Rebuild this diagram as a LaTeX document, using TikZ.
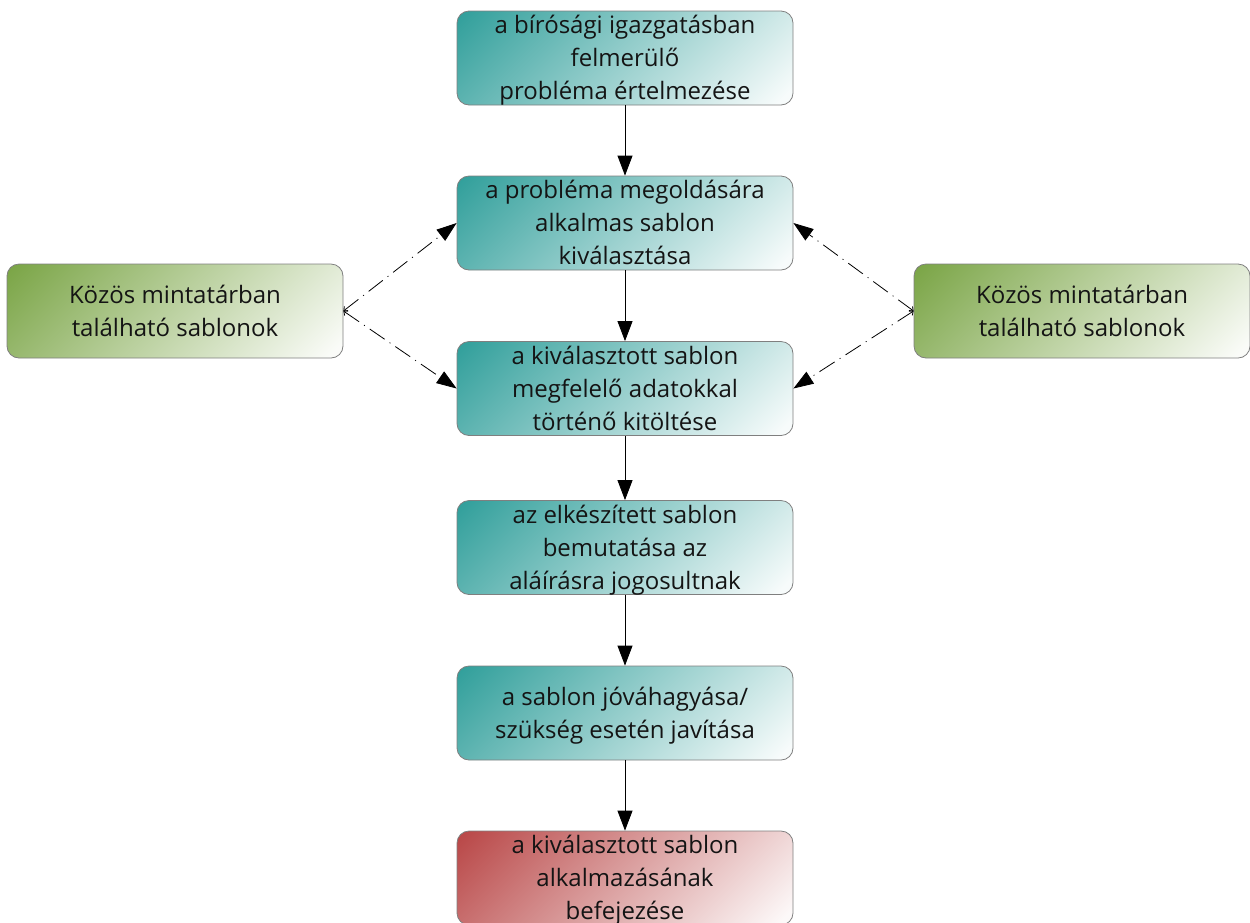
\documentclass[tikz,border=0pt]{standalone}
\usepackage{fontspec}
\setmainfont{Open Sans}
\usetikzlibrary{arrows.meta,positioning}
\definecolor{edgec}{HTML}{7F7F7F}
\definecolor{txt}{HTML}{141414}
% 45-degree gradient (in box pixels): dark at top-left, nearly white at bottom-right
\pgfdeclarefunctionalshading{tealshade}{\pgfpoint{-50bp}{-50bp}}{\pgfpoint{50bp}{50bp}}{}{%
  -1.88 mul exch 6.72 mul add 215 add 430 div dup 0 lt {pop 0} if dup 0.96 gt {pop 0.96} if
  dup 0.816 mul 0.184 add exch dup 0.380 mul 0.620 add exch 0.396 mul 0.604 add}
\pgfdeclarefunctionalshading{greenshade}{\pgfpoint{-50bp}{-50bp}}{\pgfpoint{50bp}{50bp}}{}{%
  -1.88 mul exch 6.72 mul add 215 add 430 div dup 0 lt {pop 0} if dup 0.96 gt {pop 0.96} if
  dup 0.525 mul 0.475 add exch dup 0.357 mul 0.643 add exch 0.733 mul 0.267 add}
\pgfdeclarefunctionalshading{redshade}{\pgfpoint{-50bp}{-50bp}}{\pgfpoint{50bp}{50bp}}{}{%
  -1.88 mul exch 6.72 mul add 215 add 430 div dup 0 lt {pop 0} if dup 0.96 gt {pop 0.96} if
  dup 0.278 mul 0.722 add exch dup 0.729 mul 0.271 add exch 0.729 mul 0.271 add}
\newcommand\lbl[1]{\raisebox{-2pt}[\dimexpr\height-10pt\relax][\dimexpr\depth-10pt\relax]{\begin{tabular}{@{}c@{}}#1\end{tabular}}}
\tikzset{
  box/.style={draw=edgec, line width=0.8pt, rounded corners=12pt,
    minimum width=336pt, minimum height=94pt, inner sep=0pt,
    text=txt, font=\fontsize{24}{33}\selectfont},
  tealbox/.style={box, shade, shading=tealshade},
  greenbox/.style={box, shade, shading=greenshade},
  redbox/.style={box, shade, shading=redshade},
  flow/.style={line width=0.8pt, -{Triangle[length=20pt,width=15pt]}},
  link/.style={line width=0.8pt, dash pattern=on 18pt off 6pt on 1pt off 6pt,
    {Straight Barb[length=3pt,width=6pt]}-{Triangle[length=20pt,width=14pt]}}
}
\begin{document}
\begin{tikzpicture}[x=1pt,y=1pt]
\useasboundingbox (0,0) rectangle (1250,-922);
\clip (0,0) rectangle (1250,-922);
\node[tealbox] (b1) at (625,-58) {\lbl{a bírósági igazgatásban\\felmerülő\\probléma értelmezése}};
\node[tealbox] (b2) at (625,-223) {\lbl{a probléma megoldására\\alkalmas sablon\\kiválasztása}};
\node[tealbox] (b3) at (625,-388.5) {\lbl{a kiválasztott sablon\\megfelelő adatokkal\\történő kitöltése}};
\node[tealbox] (b4) at (625,-547.5) {\lbl{az elkészített sablon\\bemutatása az\\aláírásra jogosultnak}};
\node[tealbox] (b5) at (625,-713) {\lbl{a sablon jóváhagyása/\\szükség esetén javítása}};
\node[redbox] (b6) at (625,-878) {\lbl{a kiválasztott sablon\\alkalmazásának\\befejezése}};
\node[greenbox] (l) at (175,-311) {\lbl{Közös mintatárban\\található sablonok}};
\node[greenbox] (r) at (1082,-311) {\lbl{Közös mintatárban\\található sablonok}};
\draw[flow] (b1.south) -- (b2.north);
\draw[flow] (b2.south) -- (b3.north);
\draw[flow] (b3.south) -- (b4.north);
\draw[flow] (b4.south) -- (b5.north);
\draw[flow] (b5.south) -- (b6.north);
\draw[link] (l.east) -- (b2.west);
\draw[link] (l.east) -- (b3.west);
\draw[link] (r.west) -- (b2.east);
\draw[link] (r.west) -- (b3.east);
\end{tikzpicture}
\end{document}
